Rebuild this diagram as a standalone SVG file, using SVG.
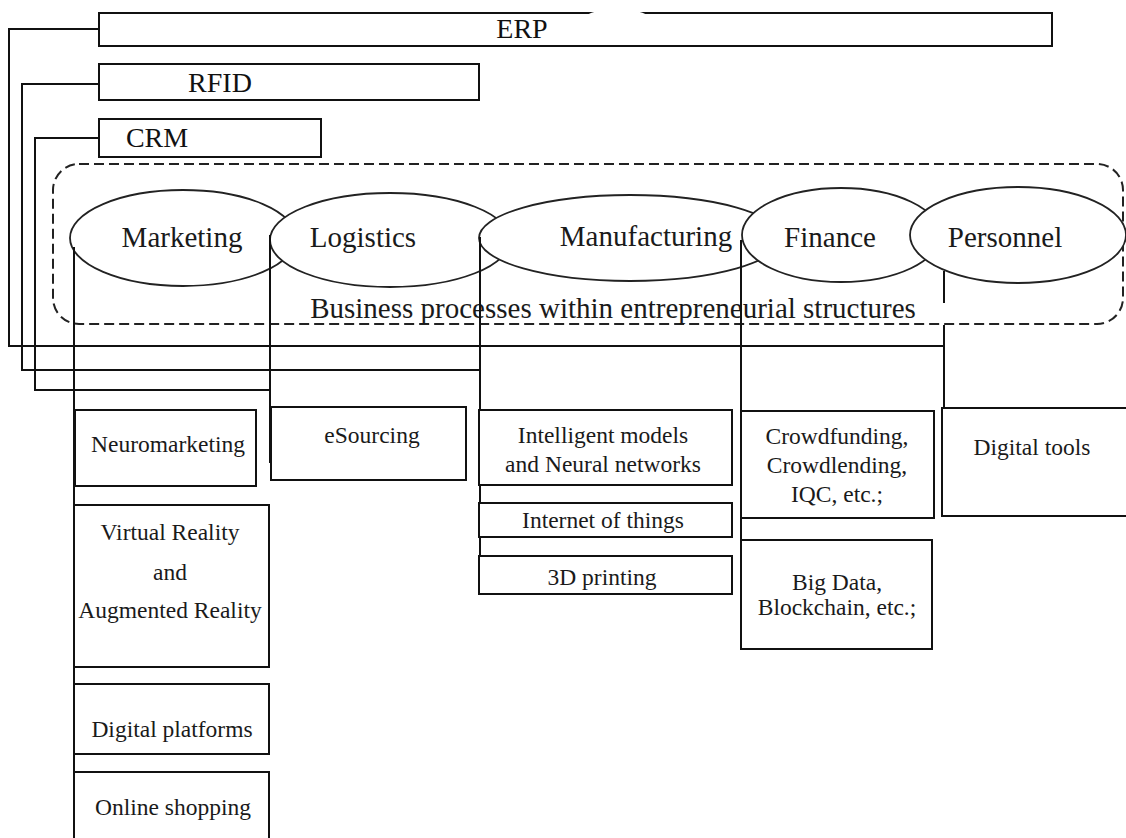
<svg xmlns="http://www.w3.org/2000/svg" width="1126" height="838" viewBox="0 0 1126 838">
<style>
.box{fill:#fff;stroke:#111;stroke-width:2}
.ell{fill:#fff;stroke:#222;stroke-width:1.8}
.t{font-family:"Liberation Serif","Times New Roman",serif;fill:#1a1a1a;text-anchor:middle}
.lab{font-size:28px;fill:#111}
.et{font-size:29px}
.bt{font-size:23.5px}
.ln{fill:none;stroke:#111;stroke-width:2}
.dash{fill:none;stroke:#222;stroke-width:2;stroke-dasharray:10 5}
</style>
<rect width="1126" height="838" fill="#fff"/>

<g id="erp">
<rect class="box" x="99" y="13" width="953" height="33"/>
<ellipse cx="617" cy="22" rx="36" ry="13" fill="#fff"/>
<text class="t lab" x="522" y="38">ERP</text>
</g>
<g id="rfid">
<rect class="box" x="99" y="64" width="380" height="36"/>
<text class="t lab" x="220" y="92">RFID</text>
</g>
<g id="crm">
<rect class="box" x="99" y="119" width="222" height="38"/>
<text class="t lab" x="157" y="147">CRM</text>
</g>

<g id="business-processes">
<rect class="dash" x="53" y="164" width="1070" height="160" rx="26" ry="26"/>
<text class="t et" x="613" y="318">Business processes within entrepreneurial structures</text>
</g>

<g id="marketing">
<ellipse class="ell" cx="183" cy="238" rx="113" ry="48"/>
<text class="t et" x="182" y="247">Marketing</text>
</g>
<g id="logistics">
<ellipse class="ell" cx="390" cy="240" rx="120" ry="47"/>
<text class="t et" x="363" y="247">Logistics</text>
</g>
<g id="manufacturing">
<ellipse class="ell" cx="630" cy="238" rx="151" ry="43"/>
<text class="t et" x="646" y="246">Manufacturing</text>
</g>
<g id="finance">
<ellipse class="ell" cx="841" cy="235" rx="99" ry="47"/>
<text class="t et" x="830" y="247">Finance</text>
</g>
<g id="personnel">
<ellipse class="ell" cx="1018" cy="235" rx="108" ry="48"/>
<text class="t et" x="1005" y="247">Personnel</text>
</g>

<g id="connectors">
<polyline class="ln" points="99,29 9,29 9,346 944,346"/>
<polyline class="ln" points="99,84 22,84 22,370 480,370"/>
<polyline class="ln" points="99,138 35,138 35,390 270,390"/>
<line class="ln" x1="74" y1="247" x2="74" y2="838"/>
<line class="ln" x1="270" y1="235" x2="270" y2="463"/>
<line class="ln" x1="480" y1="237" x2="480" y2="594"/>
<line class="ln" x1="741" y1="240" x2="741" y2="649"/>
<line class="ln" x1="944" y1="271" x2="944" y2="303"/>
<line class="ln" x1="944" y1="325" x2="944" y2="408"/>
</g>

<g id="neuromarketing">
<rect class="box" x="75" y="410" width="181" height="76"/>
<text class="t bt" x="168" y="452">Neuromarketing</text>
</g>
<g id="vr-ar">
<rect class="box" x="74" y="505" width="195" height="162"/>
<text class="t bt" x="170" y="540">Virtual Reality</text>
<text class="t bt" x="170" y="580">and</text>
<text class="t bt" x="170" y="618">Augmented Reality</text>
</g>
<g id="digital-platforms">
<rect class="box" x="74" y="684" width="195" height="70"/>
<text class="t bt" x="172" y="737">Digital platforms</text>
</g>
<g id="online-shopping">
<rect class="box" x="74" y="772" width="195" height="80"/>
<text class="t bt" x="173" y="815">Online shopping</text>
</g>
<g id="esourcing">
<rect class="box" x="271" y="407" width="195" height="73"/>
<text class="t bt" x="372" y="443">eSourcing</text>
</g>
<g id="intelligent-models">
<rect class="box" x="479" y="410" width="253" height="75"/>
<text class="t bt" x="603" y="443">Intelligent models</text>
<text class="t bt" x="603" y="472">and Neural networks</text>
</g>
<g id="iot">
<rect class="box" x="479" y="503" width="253" height="34"/>
<text class="t bt" x="603" y="528">Internet of things</text>
</g>
<g id="printing-3d">
<rect class="box" x="479" y="556" width="253" height="38"/>
<text class="t bt" x="602" y="585">3D printing</text>
</g>
<g id="crowdfunding">
<rect class="box" x="741" y="411" width="193" height="107"/>
<text class="t bt" x="837" y="444">Crowdfunding,</text>
<text class="t bt" x="837" y="473">Crowdlending,</text>
<text class="t bt" x="837" y="502">IQC, etc.;</text>
</g>
<g id="big-data">
<rect class="box" x="741" y="540" width="191" height="109"/>
<text class="t bt" x="837" y="590">Big Data,</text>
<text class="t bt" x="837" y="615">Blockchain, etc.;</text>
</g>
<g id="digital-tools">
<rect class="box" x="942" y="408" width="195" height="108"/>
<text class="t bt" x="1032" y="455">Digital tools</text>
</g>
</svg>
